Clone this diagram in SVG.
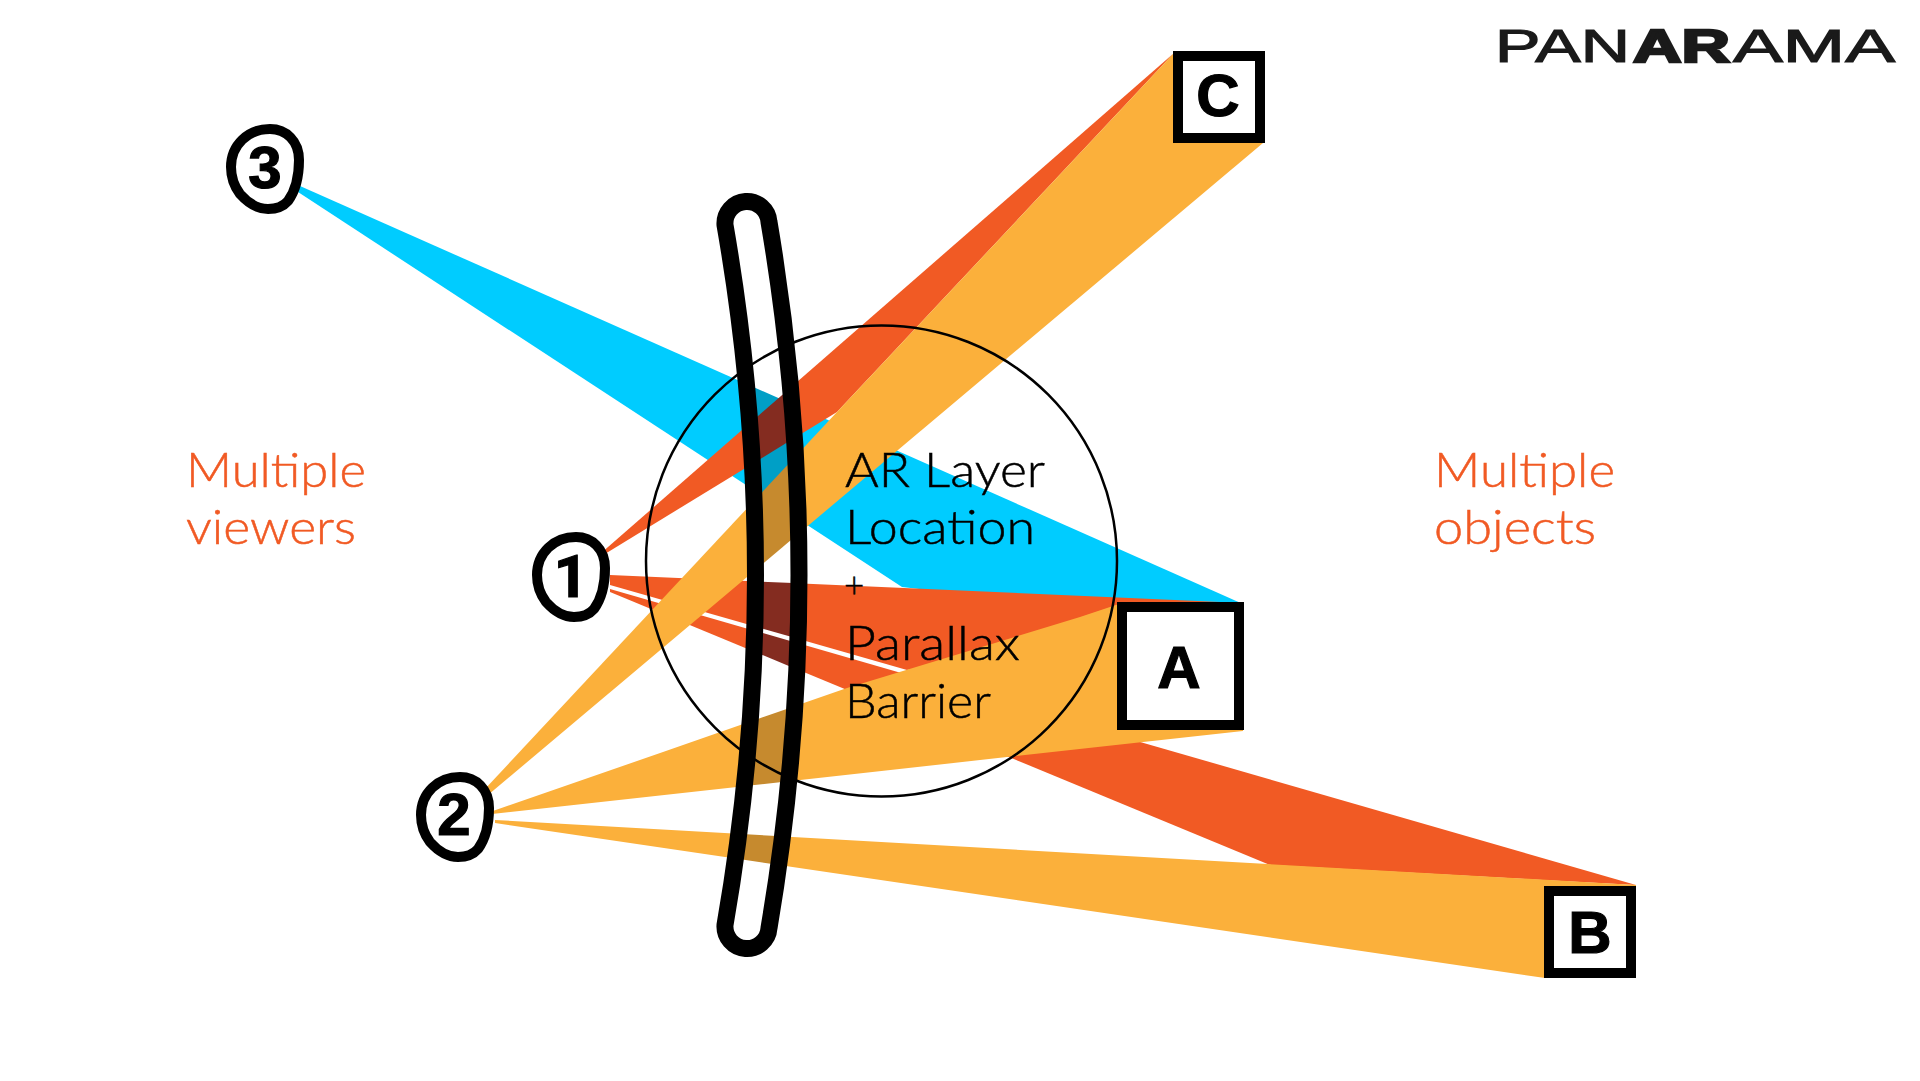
<svg xmlns="http://www.w3.org/2000/svg" width="1920" height="1081" viewBox="0 0 1920 1081">
<style>
.t{font-family:"Lato","Open Sans","Liberation Sans",sans-serif;font-weight:300;font-size:47px;stroke-width:.5px}
.or{fill:#F15A24;stroke:#F15A24}.bk{fill:#000;stroke:#000}
.d{font-family:"Liberation Sans",Arial,sans-serif;font-weight:700;font-size:60px;text-anchor:middle;fill:#000;stroke:#000;stroke-width:1.2px}
.sq{fill:#fff;stroke:#000;stroke-width:10}
.blob{fill:#fff;stroke:#000;stroke-width:10}
.l{font-family:"Liberation Sans",Arial,sans-serif;font-size:47px;fill:#1a1a1a;stroke:#1a1a1a;stroke-width:1.2px}
.lb{font-weight:700;stroke-width:2.5px}
</style>
<defs>
<path id="bar" d="M725,225 A22,22 0 0 1 769,222 Q829,575 769,928 A22,22 0 0 1 725,925 Q786,575 725,225 Z"/>
<clipPath id="barClip"><use href="#bar"/></clipPath>
<path id="egg" d="M270,129 C286,129 299,141 299,160 C299,178 296,190 288,201 C282,208 275,209 268,209 C258,209 248,203 240,194 C234,186 231,177 231,167 C231,145 248,129 270,129 Z"/>
<polygon id="cBlue" points="300,186 1243,604 1100,610 902,587 298,192"/>
<polygon id="cRedA" points="610,575 1243,603 1100,640 907,670 610,585"/>
<polygon id="cRedB" points="610,589 1636,885 1270,865 610,592"/>
<polygon id="cRedC" points="600,554 1174,53 837,412 600,557"/>
<polygon id="cOrC" points="484,790 837,412 1174,53 1263,143 488,795"/>
<polygon id="cOrA" points="490,812 663,752 847,688 1080,617 1125,602 1243,602 1243,731 492,814"/>
<polygon id="cOrB" points="495,820 1636,885 1636,978 1545,978 495,823"/>
</defs>
<rect width="1920" height="1081" fill="#fff"/>
<g id="connectors">
<use href="#cBlue" fill="#00CCFF"/>
<use href="#cRedA" fill="#F15A24"/>
<use href="#cRedB" fill="#F15A24"/>
<use href="#cRedC" fill="#F15A24"/>
<use href="#cOrC" fill="#FBB03B"/>
<use href="#cOrA" fill="#FBB03B"/>
<use href="#cOrB" fill="#FBB03B"/>
</g>
<g id="barrier-overlap" clip-path="url(#barClip)">
<rect x="700" y="180" width="140" height="790" fill="#fff"/>
<use href="#cBlue" fill="#009FC6"/>
<use href="#cRedA" fill="#842C20"/>
<use href="#cRedB" fill="#842C20"/>
<use href="#cRedC" fill="#842C20"/>
<use href="#cOrC" fill="#C68A2E"/>
<use href="#cOrA" fill="#C68A2E"/>
<use href="#cOrB" fill="#C68A2E"/>
</g>
<g id="ar-layer">
<circle cx="881.5" cy="561" r="235.5" fill="none" stroke="#000" stroke-width="2.5"/>
<text class="t bk" x="845" y="487" textLength="200" lengthAdjust="spacingAndGlyphs">AR Layer</text>
<text class="t bk" x="845" y="544" textLength="190" lengthAdjust="spacingAndGlyphs">Location</text>
<text class="t bk" x="844" y="598" style="font-size:35px">+</text>
<text class="t bk" x="845" y="660" textLength="175" lengthAdjust="spacingAndGlyphs">Parallax</text>
<text class="t bk" x="845" y="718" textLength="146" lengthAdjust="spacingAndGlyphs">Barrier</text>
</g>
<g id="parallax-barrier"><use href="#bar" fill="none" stroke="#000" stroke-width="17"/></g>
<g id="viewer-3"><use href="#egg" class="blob"/><text class="d" x="265" y="188">3</text></g>
<g id="viewer-1"><use href="#egg" class="blob" x="306" y="408"/><text class="d" x="571" y="597" style="font-family:Roboto,'Liberation Sans',sans-serif">1</text></g>
<g id="viewer-2"><use href="#egg" class="blob" x="190" y="648"/><text class="d" x="454" y="835">2</text></g>
<g id="object-a"><rect class="sq" x="1122" y="607" width="117" height="118"/><text class="d" x="1179" y="688">A</text></g>
<g id="object-b"><rect class="sq" x="1549" y="891" width="82" height="82"/><text class="d" x="1590" y="953">B</text></g>
<g id="object-c"><rect class="sq" x="1178" y="56" width="82" height="82"/><text class="d" x="1218" y="116">C</text></g>
<g id="labels">
<text class="t or" x="186" y="487" textLength="180" lengthAdjust="spacingAndGlyphs">Multiple</text>
<text class="t or" x="186" y="544" textLength="170" lengthAdjust="spacingAndGlyphs">viewers</text>
<text class="t or" x="1434" y="487" textLength="181" lengthAdjust="spacingAndGlyphs">Multiple</text>
<text class="t or" x="1434" y="544" textLength="162" lengthAdjust="spacingAndGlyphs">objects</text>
</g>
<g id="logo">
<text class="l" x="1495" y="62" textLength="135" lengthAdjust="spacingAndGlyphs">PAN</text>
<text class="l lb" x="1633" y="62" textLength="97" lengthAdjust="spacingAndGlyphs">AR</text>
<text class="l" x="1733" y="62" textLength="162" lengthAdjust="spacingAndGlyphs">AMA</text>
</g>
</svg>
